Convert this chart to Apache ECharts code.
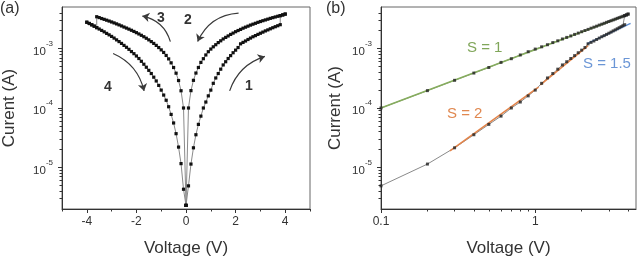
<!DOCTYPE html>
<html>
<head>
<meta charset="utf-8">
<script src="https://cdn.jsdelivr.net/npm/echarts@6/dist/echarts.min.js"></script>
<style>
html, body { margin: 0; padding: 0; background: #fff; }
#chart { width: 641px; height: 262px; }
</style>
</head>
<body>
<div id="chart"></div>
<script>
// sweep voltage magnitude, 0 -> 4 V in 0.1 V steps
const volts = [0, 0.1, 0.2, 0.3, 0.4, 0.5, 0.6, 0.7, 0.8, 0.9, 1.0, 1.1, 1.2, 1.3, 1.4, 1.5, 1.6, 1.7, 1.8, 1.9, 2.0,
    2.1, 2.2, 2.3, 2.4, 2.5, 2.6, 2.7, 2.8, 2.9, 3.0, 3.1, 3.2, 3.3, 3.4, 3.5, 3.6, 3.7, 3.8, 3.9, 4.0];

// sweep 1: 0 -> +3.8 V on the low branch (jumps up at 3.8 V)
const sweep1 = [2.3e-6, 4.9e-6, 1.14e-5, 2.14e-5, 3.55e-5, 5.3e-5, 7.3e-5, 1.0e-4, 1.26e-4, 1.6e-4, 2.0e-4,
    2.6e-4, 3.2e-4, 3.8e-4, 4.5e-4, 5.3e-4, 6.0e-4, 6.8e-4, 7.6e-4, 8.5e-4, 9.4e-4,
    1.04e-3, 1.2e-3, 1.27e-3, 1.34e-3, 1.42e-3, 1.5e-3, 1.58e-3, 1.65e-3, 1.73e-3, 1.81e-3,
    1.89e-3, 1.98e-3, 2.06e-3, 2.15e-3, 2.24e-3, 2.33e-3, 2.42e-3, 2.52e-3];
// sweep 2: high branch, +4 V back to 0 (indexed by |V|)
const sweep2 = [2.3e-6, 1.0e-4, 1.96e-4, 2.92e-4, 3.87e-4, 4.8e-4, 5.85e-4, 6.75e-4, 7.8e-4, 8.85e-4, 9.8e-4,
    1.07e-3, 1.16e-3, 1.26e-3, 1.35e-3, 1.45e-3, 1.54e-3, 1.63e-3, 1.73e-3, 1.82e-3, 1.92e-3,
    2.01e-3, 2.1e-3, 2.2e-3, 2.29e-3, 2.38e-3, 2.48e-3, 2.57e-3, 2.66e-3, 2.76e-3, 2.85e-3,
    2.94e-3, 3.03e-3, 3.12e-3, 3.22e-3, 3.31e-3, 3.4e-3, 3.49e-3, 3.58e-3, 3.68e-3, 3.8e-3];
// sweep 3: 0 -> -3.6 V on the high branch (indexed by |V|)
const sweep3 = [2.3e-6, 1.0e-4, 1.95e-4, 2.9e-4, 3.85e-4, 4.8e-4, 5.75e-4, 6.7e-4, 7.65e-4, 8.6e-4, 9.5e-4,
    1.04e-3, 1.13e-3, 1.22e-3, 1.31e-3, 1.4e-3, 1.49e-3, 1.58e-3, 1.67e-3, 1.76e-3, 1.85e-3,
    1.94e-3, 2.03e-3, 2.12e-3, 2.21e-3, 2.3e-3, 2.4e-3, 2.5e-3, 2.6e-3, 2.7e-3, 2.8e-3,
    2.9e-3, 3.0e-3, 3.1e-3, 3.2e-3, 3.32e-3, 3.43e-3];
// sweep 4: low branch, -4 V back to 0 (indexed by |V|)
const sweep4 = [2.3e-6, 4.3e-6, 1.16e-5, 2.2e-5, 3.7e-5, 5.6e-5, 7.8e-5, 1.05e-4, 1.35e-4, 1.65e-4, 2.0e-4,
    2.4e-4, 2.85e-4, 3.3e-4, 3.8e-4, 4.3e-4, 4.85e-4, 5.45e-4, 6.1e-4, 6.8e-4, 7.5e-4,
    8.2e-4, 8.9e-4, 9.7e-4, 1.05e-3, 1.13e-3, 1.22e-3, 1.31e-3, 1.4e-3, 1.5e-3, 1.6e-3,
    1.7e-3, 1.8e-3, 1.91e-3, 2.02e-3, 2.13e-3, 2.25e-3, 2.38e-3, 2.51e-3, 2.64e-3, 2.77e-3];

// power-law fits in (b), [V, I] end points
const fitS1 = [[0.1, 1.0e-4], [4.03, 3.77e-3]];
const fitS2a = [[0.28, 1.9e-5], [1.05, 2.25e-4]];
const fitS2b = [[1.08, 2.45e-4], [2.2, 1.12e-3]];
const fitS15 = [[2.17, 1.21e-3], [4.15, 2.65e-3]];

// sweep direction arrows in (a), [V, I] start and end
const arrows = [
    { coords: [[-0.63, 1.31e-3], [-1.76, 3.52e-3]], curve: -0.3 },
    { coords: [[2.12, 3.95e-3], [0.47, 1.31e-3]], curve: -0.3 },
    { coords: [[-2.94, 8.26e-4], [-1.69, 1.94e-4]], curve: 0.25 },
    { coords: [[1.76, 1.94e-4], [3.18, 7.37e-4]], curve: 0.25 }
];

// ticks
const aMajor = [-4, -2, 0, 2, 4];
const aMinor = [-5, -3, -1, 1, 3, 5];
const bMajor = [0.1, 1];
const bMinor = [0.2, 0.3, 0.4, 0.5, 0.6, 0.7, 0.8, 0.9, 2, 3, 4];
const yMajor = [1e-5, 1e-4, 1e-3];
const yMinor = [3e-6, 4e-6, 5e-6, 6e-6, 7e-6, 8e-6, 9e-6, 2e-5, 3e-5, 4e-5, 5e-5, 6e-5, 7e-5, 8e-5, 9e-5,
    2e-4, 3e-4, 4e-4, 5e-4, 6e-4, 7e-4, 8e-4, 9e-4, 2e-3, 3e-3, 4e-3];

const FONT = '"Liberation Sans", Arial, sans-serif';
const INK = '#333';

// forward sweep on low branch, jump up, then back on high branch
const posPath = sweep1.map((c, i) => [volts[i], c])
    .concat([38, 39, 40].map(i => [volts[i], sweep2[i]]))
    .concat(sweep2.map((c, i) => [volts[i], c]).reverse());
const negPath = sweep3.map((c, i) => [-volts[i], c])
    .concat([36, 37, 38, 39, 40].map(i => [-volts[i], sweep4[i]]))
    .concat(sweep4.map((c, i) => [-volts[i], c]).reverse());
const logPath = posPath.filter(p => p[0] > 0);

const powLabel = v => '{b|10}{e|' + Math.round(Math.log10(v)) + '}';

const mainX = (grid, type, min, max, major, fmt) => ({
    type, gridIndex: grid, min, max, position: 'bottom',
    axisLine: { onZero: false, lineStyle: { color: INK, width: 1 } },
    axisTick: { customValues: major, length: 4, lineStyle: { color: INK } },
    axisLabel: { customValues: major, formatter: fmt, fontSize: 12, color: INK, fontFamily: FONT, margin: 7 },
    splitLine: { show: false },
    name: 'Voltage (V)', nameLocation: 'middle', nameGap: 31,
    nameTextStyle: { fontSize: 17, color: INK, fontFamily: FONT }
});
const minorAxis = (grid, type, min, max, minor, position) => ({
    type, gridIndex: grid, min, max, position,
    axisLine: { show: false, onZero: false },
    axisTick: { show: true, customValues: minor, length: 2.5, lineStyle: { color: INK } },
    axisLabel: { show: false },
    splitLine: { show: false }
});
const mainY = (grid, name, gap) => ({
    type: 'log', gridIndex: grid, min: 2e-6, max: 5e-3, position: 'left',
    axisLine: { show: true, onZero: false, lineStyle: { color: INK, width: 1 } },
    axisTick: { show: true, customValues: yMajor, length: 4, lineStyle: { color: INK } },
    axisLabel: {
        customValues: yMajor, formatter: powLabel, margin: 9,
        rich: {
            b: { fontSize: 11.5, color: INK, fontFamily: FONT, lineHeight: 18, verticalAlign: 'bottom' },
            e: { fontSize: 8, color: INK, fontFamily: FONT, lineHeight: 8, verticalAlign: 'top' }
        }
    },
    splitLine: { show: false },
    name, nameLocation: 'middle', nameGap: gap,
    nameTextStyle: { fontSize: 17, color: INK, fontFamily: FONT }
});

const dataLine = (xi, yi, data, withDots) => ({
    type: 'line', xAxisIndex: xi, yAxisIndex: yi, data,
    showSymbol: withDots, symbol: 'rect', symbolSize: 3.2,
    itemStyle: { color: '#111' },
    lineStyle: { color: '#8a8a8a', width: 1 },
    z: 2
});
const fitLine = (data, color) => ({
    type: 'line', xAxisIndex: 2, yAxisIndex: 2, data, showSymbol: false,
    lineStyle: { color, width: 1.6 }, z: 3
});

const txt = (left, top, text, size, color, weight) => ({
    type: 'text', left, top,
    style: { text, fontSize: size, fill: color, fontFamily: FONT, fontWeight: weight || 'normal' }
});

const chart = echarts.init(document.getElementById('chart'));
chart.setOption({
    animation: false,
    backgroundColor: '#fff',
    grid: [
        { left: 55, top: 7, width: 255, height: 205, show: true, borderColor: '#666', borderWidth: 1 },
        { left: 381, top: 7, width: 255, height: 205, show: true, borderColor: '#666', borderWidth: 1 }
    ],
    xAxis: [
        mainX(0, 'value', -5, 5, aMajor, v => String(v)),
        minorAxis(0, 'value', -5, 5, aMinor, 'bottom'),
        mainX(1, 'log', 0.1, 4.5, bMajor, v => (v < 0.5 ? '0.1' : '1')),
        minorAxis(1, 'log', 0.1, 4.5, bMinor, 'bottom')
    ],
    yAxis: [
        mainY(0, 'Curent (A)', 44),
        minorAxis(0, 'log', 2e-6, 5e-3, yMinor, 'left'),
        mainY(1, 'Current (A)', 37),
        minorAxis(1, 'log', 2e-6, 5e-3, yMinor, 'left')
    ],
    series: [
        dataLine(0, 0, posPath, true),
        dataLine(0, 0, negPath, true),
        {
            type: 'lines', coordinateSystem: 'cartesian2d', xAxisIndex: 0, yAxisIndex: 0,
            symbol: ['none', 'arrow'], symbolSize: 7,
            data: arrows.map(a => ({ coords: a.coords, lineStyle: { curveness: a.curve } })),
            lineStyle: { color: '#3a3a3a', width: 1.2, opacity: 1 },
            z: 4
        },
        dataLine(2, 2, logPath, false),
        fitLine(fitS1, '#86ad5e'),
        fitLine(fitS2a, '#e3844a'),
        fitLine(fitS2b, '#e3844a'),
        fitLine(fitS15, '#5d8fd6'),
        {
            type: 'scatter', xAxisIndex: 2, yAxisIndex: 2, data: logPath,
            symbol: 'rect', symbolSize: 3, itemStyle: { color: '#222' }, z: 5
        }
    ],
    graphic: [
        txt(0, 1, '(a)', 16, INK),
        txt(326, 1, '(b)', 16, INK),
        txt(157, 11, '3', 14, INK, 'bold'),
        txt(184, 13, '2', 14, INK, 'bold'),
        txt(104, 80, '4', 14, INK, 'bold'),
        txt(245, 79, '1', 14, INK, 'bold'),
        txt(467, 40, 'S = 1', 15, '#80a65a'),
        txt(447, 106, 'S = 2', 15, '#e08850'),
        txt(583, 56, 'S = 1.5', 15, '#6b96d6')
    ]
});
</script>
</body>
</html>
